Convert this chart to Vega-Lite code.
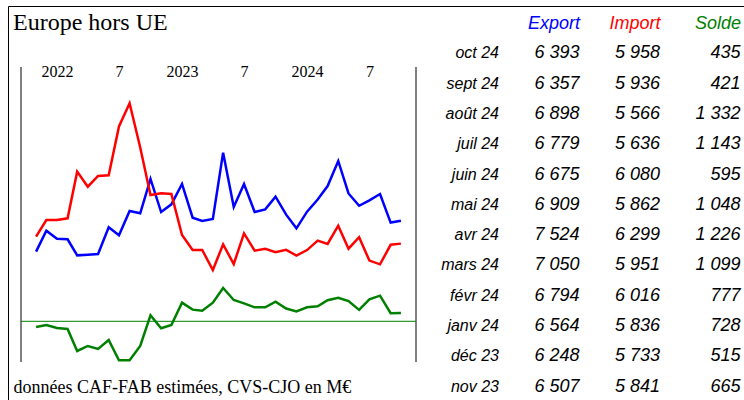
{
  "$schema": "https://vega.github.io/schema/vega-lite/v6.json",
  "width": 736,
  "height": 394,
  "autosize": {"type": "none"},
  "padding": {"left": 8, "top": 6, "right": 0, "bottom": 0},
  "background": "white",
  "config": {
    "view": {"stroke": "black", "strokeWidth": 1},
    "locale": {
      "number": {"decimal": ",", "thousands": " ", "grouping": [3], "currency": ["", " €"]},
      "time": {
        "dateTime": "%A %e %B %Y à %X", "date": "%d/%m/%Y", "time": "%H:%M:%S", "periods": ["AM", "PM"],
        "days": ["dimanche", "lundi", "mardi", "mercredi", "jeudi", "vendredi", "samedi"],
        "shortDays": ["dim.", "lun.", "mar.", "mer.", "jeu.", "ven.", "sam."],
        "months": ["janvier", "février", "mars", "avril", "mai", "juin", "juillet", "août", "septembre", "octobre", "novembre", "décembre"],
        "shortMonths": ["janv", "févr", "mars", "avr", "mai", "juin", "juil", "août", "sept", "oct", "nov", "déc"]
      }
    }
  },
  "title": {"text": "Europe hors UE", "anchor": "start", "frame": "group", "orient": "top", "offset": -23, "dx": 5, "dy": 25, "baseline": "alphabetic", "font": "Liberation Serif", "fontSize": 24, "fontWeight": "normal", "color": "black"},
  "data": {
    "values": [
      {"date": "2021-11-01", "Export": 5806, "Import": 6090, "Solde": -295},
      {"date": "2021-12-01", "Export": 6204, "Import": 6406, "Solde": -191},
      {"date": "2022-01-01", "Export": 6052, "Import": 6406, "Solde": -347},
      {"date": "2022-02-01", "Export": 6040, "Import": 6437, "Solde": -399},
      {"date": "2022-03-01", "Export": 5736, "Import": 7322, "Solde": -1542},
      {"date": "2022-04-01", "Export": 5749, "Import": 7037, "Solde": -1282},
      {"date": "2022-05-01", "Export": 5762, "Import": 7240, "Solde": -1438},
      {"date": "2022-06-01", "Export": 6267, "Import": 7252, "Solde": -970},
      {"date": "2022-07-01", "Export": 6115, "Import": 8180, "Solde": -2028},
      {"date": "2022-08-01", "Export": 6576, "Import": 8617, "Solde": -2028},
      {"date": "2022-09-01", "Export": 6532, "Import": 7780, "Solde": -1282},
      {"date": "2022-10-01", "Export": 7183, "Import": 6880, "Solde": 312},
      {"date": "2022-11-01", "Export": 6557, "Import": 6912, "Solde": -364},
      {"date": "2022-12-01", "Export": 6703, "Import": 6899, "Solde": -191},
      {"date": "2023-01-01", "Export": 7088, "Import": 6121, "Solde": 971},
      {"date": "2023-02-01", "Export": 6450, "Import": 5837, "Solde": 607},
      {"date": "2023-03-01", "Export": 6387, "Import": 5837, "Solde": 555},
      {"date": "2023-04-01", "Export": 6425, "Import": 5458, "Solde": 971},
      {"date": "2023-05-01", "Export": 7682, "Import": 5944, "Solde": 1733},
      {"date": "2023-06-01", "Export": 6652, "Import": 5572, "Solde": 1109},
      {"date": "2023-07-01", "Export": 7088, "Import": 6153, "Solde": 936},
      {"date": "2023-08-01", "Export": 6557, "Import": 5825, "Solde": 728},
      {"date": "2023-09-01", "Export": 6607, "Import": 5862, "Solde": 728},
      {"date": "2023-10-01", "Export": 6847, "Import": 5794, "Solde": 1023},
      {"date": "2023-11-01", "Export": 6507, "Import": 5841, "Solde": 665},
      {"date": "2023-12-01", "Export": 6248, "Import": 5733, "Solde": 515},
      {"date": "2024-01-01", "Export": 6564, "Import": 5836, "Solde": 728},
      {"date": "2024-02-01", "Export": 6794, "Import": 6016, "Solde": 777},
      {"date": "2024-03-01", "Export": 7050, "Import": 5951, "Solde": 1099},
      {"date": "2024-04-01", "Export": 7524, "Import": 6299, "Solde": 1226},
      {"date": "2024-05-01", "Export": 6909, "Import": 5862, "Solde": 1048},
      {"date": "2024-06-01", "Export": 6675, "Import": 6080, "Solde": 595},
      {"date": "2024-07-01", "Export": 6779, "Import": 5636, "Solde": 1143},
      {"date": "2024-08-01", "Export": 6898, "Import": 5566, "Solde": 1332},
      {"date": "2024-09-01", "Export": 6357, "Import": 5936, "Solde": 421},
      {"date": "2024-10-01", "Export": 6393, "Import": 5958, "Solde": 435}
    ],
    "format": {"parse": {"date": "utc:'%Y-%m-%d'"}}
  },
  "layer": [
    {
      "layer": [
        {
          "transform": [{"fold": ["Export", "Import"], "as": ["key", "value"]}],
          "mark": {"type": "line", "strokeWidth": 2.5},
          "encoding": {
            "x": {
              "field": "date", "type": "temporal",
              "scale": {"type": "utc", "domain": [{"year": 2021, "month": 9, "date": 18, "utc": true}, {"year": 2024, "month": 11, "date": 14, "utc": true}], "range": [13, 408], "nice": false},
              "axis": {
                "orient": "top",
                "values": [
                  {"year": 2022, "month": 1, "date": 1, "utc": true},
                  {"year": 2022, "month": 7, "date": 1, "utc": true},
                  {"year": 2023, "month": 1, "date": 1, "utc": true},
                  {"year": 2023, "month": 7, "date": 1, "utc": true},
                  {"year": 2024, "month": 1, "date": 1, "utc": true},
                  {"year": 2024, "month": 7, "date": 1, "utc": true}
                ],
                "labelExpr": "utcFormat(datum.value, '%m') == '01' ? utcFormat(datum.value, '%Y') : '7'",
                "domain": false, "ticks": false, "grid": false, "title": null,
                "labelPadding": -65, "labelBaseline": "middle", "labelFont": "Liberation Serif", "labelFontSize": 16,
                "labelColor": "black", "labelFlush": false, "labelOverlap": false
              }
            },
            "y": {"field": "value", "type": "quantitative", "scale": {"domain": [3715, 9305], "range": [356, 61], "zero": false, "nice": false}, "axis": null},
            "color": {"field": "key", "type": "nominal", "scale": {"domain": ["Export", "Import"], "range": ["#0000ff", "#ff0000"]}, "legend": null}
          }
        },
        {
          "data": {"values": [{}]},
          "mark": {"type": "rule", "color": "black", "strokeWidth": 1},
          "encoding": {
            "x": {"datum": {"year": 2021, "month": 9, "date": 18, "utc": true}, "type": "temporal"},
            "y": {"datum": 3715, "type": "quantitative"},
            "y2": {"datum": 9305}
          }
        },
        {
          "data": {"values": [{}]},
          "mark": {"type": "rule", "color": "black", "strokeWidth": 1},
          "encoding": {
            "x": {"datum": {"year": 2024, "month": 11, "date": 14, "utc": true}, "type": "temporal"},
            "y": {"datum": 3715, "type": "quantitative"},
            "y2": {"datum": 9305}
          }
        }
      ]
    },
    {
      "layer": [
        {
          "mark": {"type": "line", "strokeWidth": 2.5, "color": "#008000"},
          "encoding": {
            "x": {
              "field": "date", "type": "temporal",
              "scale": {"type": "utc", "domain": [{"year": 2021, "month": 9, "date": 18, "utc": true}, {"year": 2024, "month": 11, "date": 14, "utc": true}], "range": [13, 408], "nice": false},
              "axis": {
                "orient": "bottom", "labels": false, "ticks": false, "domain": false, "grid": false,
                "title": "données CAF-FAB estimées, CVS-CJO en M€",
                "titleX": 5, "titleY": -7.5, "titleAlign": "left", "titleAnchor": "start", "titleBaseline": "alphabetic",
                "titleFont": "Liberation Serif", "titleFontSize": 18, "titleFontWeight": "normal", "titleColor": "black"
              }
            },
            "y": {"field": "Solde", "type": "quantitative", "scale": {"domain": [-2116, 13224], "range": [356, 61], "zero": false, "nice": false}, "axis": null}
          }
        },
        {
          "data": {"values": [{}]},
          "mark": {"type": "rule", "color": "#008000", "strokeWidth": 1},
          "encoding": {
            "x": {"datum": {"year": 2021, "month": 9, "date": 18, "utc": true}, "type": "temporal"},
            "x2": {"datum": {"year": 2024, "month": 11, "date": 14, "utc": true}},
            "y": {"datum": 0, "type": "quantitative"}
          }
        }
      ]
    },
    {
      "transform": [{"filter": {"field": "date", "timeUnit": "utcyearmonth", "gte": {"year": 2023, "month": 11, "date": 1, "utc": true}}}],
      "layer": [
        {
          "mark": {"type": "text", "align": "right", "baseline": "middle", "font": "Liberation Sans", "fontStyle": "italic", "fontSize": 16, "color": "black"},
          "encoding": {
            "x": {
              "datum": "lab", "type": "nominal",
              "scale": {"type": "point", "domain": ["lab", "Export", "Import", "Solde"], "range": [491, 732.5], "padding": 0},
              "axis": {
                "orient": "top", "domain": false, "ticks": false, "grid": false, "title": null,
                "labelExpr": "datum.value === 'lab' ? '' : datum.label",
                "labelPadding": -17, "labelBaseline": "middle", "labelAlign": "right", "labelAngle": 0,
                "labelFont": "Liberation Sans", "labelFontStyle": "italic", "labelFontSize": 18,
                "labelColor": {"condition": [{"test": "datum.value === 'Export'", "value": "#0000ff"}, {"test": "datum.value === 'Import'", "value": "#ff0000"}], "value": "#008000"}
              }
            },
            "y": {"field": "date", "timeUnit": "utcyearmonth", "type": "ordinal", "sort": "descending", "scale": {"type": "point", "range": [47.3, 380.7], "padding": 0}, "axis": null},
            "text": {"field": "date", "timeUnit": "utcyearmonth", "type": "temporal", "format": "%b %y"}
          }
        },
        {
          "transform": [{"fold": ["Export", "Import", "Solde"], "as": ["key", "value"]}],
          "mark": {"type": "text", "align": "right", "baseline": "middle", "font": "Liberation Sans", "fontStyle": "italic", "fontSize": 18, "color": "black"},
          "encoding": {
            "x": {
              "field": "key", "type": "nominal",
              "scale": {"type": "point", "domain": ["lab", "Export", "Import", "Solde"], "range": [491, 732.5], "padding": 0},
              "axis": {
                "orient": "top", "domain": false, "ticks": false, "grid": false, "title": null,
                "labelExpr": "datum.value === 'lab' ? '' : datum.label",
                "labelPadding": -17, "labelBaseline": "middle", "labelAlign": "right", "labelAngle": 0,
                "labelFont": "Liberation Sans", "labelFontStyle": "italic", "labelFontSize": 18,
                "labelColor": {"condition": [{"test": "datum.value === 'Export'", "value": "#0000ff"}, {"test": "datum.value === 'Import'", "value": "#ff0000"}], "value": "#008000"}
              }
            },
            "y": {"field": "date", "timeUnit": "utcyearmonth", "type": "ordinal", "sort": "descending", "scale": {"type": "point", "range": [47.3, 380.7], "padding": 0}, "axis": null},
            "text": {"field": "value", "type": "quantitative", "format": ",.0f"}
          }
        }
      ]
    }
  ],
  "resolve": {
    "scale": {"x": "independent", "y": "independent", "color": "independent"},
    "axis": {"x": "independent", "y": "independent"}
  }
}
